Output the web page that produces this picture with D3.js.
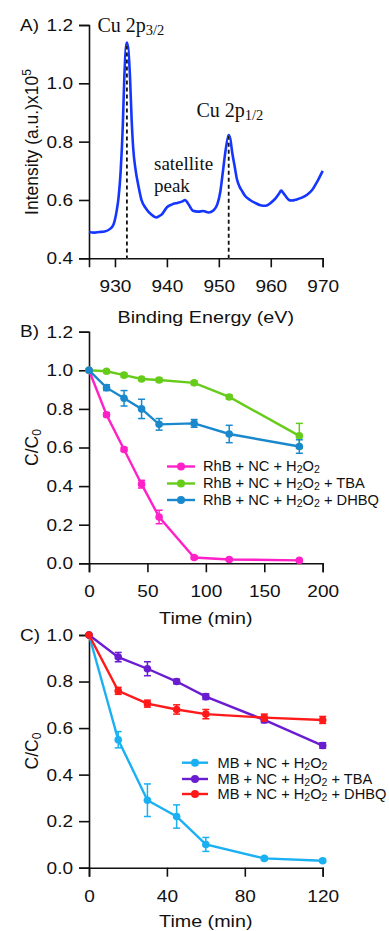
<!DOCTYPE html>
<html><head><meta charset="utf-8">
<script src="https://cdn.jsdelivr.net/npm/d3@7"></script>
<style>
html,body{margin:0;padding:0;background:#fff;}
svg{display:block;font-family:"Liberation Sans",Arial,sans-serif;}
</style></head>
<body><svg id="c" width="389" height="931"></svg>
<script>
// ---------- Panel A data (XPS Cu 2p) ----------
const xpsEnergy = [925,926,927,928,929,929.7,930.3,930.7,931.1,931.5,931.8,932.1,932.3,932.6,932.9,933.2,933.5,934,934.5,935.1,936,937,938,938.5,939,940,941,942,943,943.5,944,944.5,945,946,947,948,949,949.7,950.3,950.8,951.3,951.7,951.9,952.2,952.6,953,953.5,954,954.5,955,956,957,958,959,960,961,961.6,962,962.5,963,963.5,964,965,966,967,968,969,970];
const xpsIntensity = [0.49,0.488,0.49,0.492,0.50,0.515,0.56,0.61,0.70,0.85,1.02,1.12,1.14,1.11,1.02,0.88,0.78,0.70,0.65,0.60,0.57,0.55,0.54,0.545,0.55,0.575,0.585,0.59,0.595,0.60,0.59,0.575,0.563,0.56,0.562,0.557,0.565,0.585,0.63,0.70,0.77,0.81,0.823,0.81,0.76,0.72,0.67,0.645,0.63,0.615,0.60,0.59,0.582,0.58,0.59,0.607,0.622,0.632,0.622,0.61,0.60,0.598,0.602,0.608,0.618,0.635,0.665,0.70];
const peakPositions = [932.3, 951.9];
const peakTops = [1.13, 0.82];
const xTicksA = [930,940,950,960,970];
const yTicksA = [0.4,0.6,0.8,1.0,1.2];

// ---------- Panel B data (RhB) ----------
const timeB = [0,15,30,45,60,90,120,180];
const rhbH2O2 = [1.0,0.77,0.59,0.41,0.24,0.03,0.02,0.015];
const rhbH2O2Err = [0,0.01,0.01,0.02,0.035,0.008,0.005,0.005];
const rhbTBA = [1.0,0.995,0.975,0.955,0.95,0.935,0.862,0.66];
const rhbTBAErr = [0,0.008,0.01,0.008,0.01,0.01,0.01,0.065];
const rhbDHBQ = [1.0,0.91,0.855,0.80,0.72,0.725,0.67,0.605];
const rhbDHBQErr = [0,0.015,0.04,0.05,0.03,0.02,0.045,0.035];
const xTicksB = [0,50,100,150,200];
const yTicksB = [0,0.2,0.4,0.6,0.8,1.0,1.2];

// ---------- Panel C data (MB) ----------
const timeC = [0,15,30,45,60,90,120];
const mbH2O2 = [1.0,0.55,0.29,0.22,0.10,0.04,0.03];
const mbH2O2Err = [0,0.035,0.07,0.05,0.03,0.006,0.006];
const mbTBA = [1.0,0.905,0.855,0.80,0.735,0.635,0.525];
const mbTBAErr = [0,0.02,0.03,0.01,0.012,0.012,0.012];
const mbDHBQ = [1.0,0.76,0.705,0.68,0.66,0.645,0.635];
const mbDHBQErr = [0,0.015,0.015,0.02,0.02,0.015,0.015];
const xTicksC = [0,40,80,120];
const yTicksC = [0,0.2,0.4,0.6,0.8,1.0];

const svg = d3.select("#c");
const FS = 17;
const SX = 1.12;   // horizontal stretch of the sans-serif text

function stretch(sel, sx){
  sel.each(function(){
    const t = d3.select(this);
    const x = +(t.attr("x")||0);
    t.attr("x", x/sx);
    const tr = t.attr("transform")||"";
    t.attr("transform", (tr+" scale("+sx+",1)").trim());
  });
}
function styleAxis(g){
  g.selectAll("path.domain").attr("stroke","#111").attr("stroke-width",1.6);
  g.selectAll(".tick line").attr("stroke","#111").attr("stroke-width",1.6);
  g.selectAll(".tick text").attr("font-size",FS).attr("fill","#111").attr("font-family","Liberation Sans, Arial, sans-serif");
  stretch(g.selectAll(".tick text"),SX);
}
function drawAxes(x,y,xt,yt,xFmt,yFmt,yBottom){
  const gy = svg.append("g").attr("transform",`translate(${x.range()[0]},0)`)
    .call(d3.axisLeft(y).tickValues(yt).tickFormat(yFmt).tickSizeOuter(0).tickSize(10).tickPadding(6));
  styleAxis(gy);
  const gx = svg.append("g").attr("transform",`translate(0,${yBottom})`)
    .call(d3.axisBottom(x).tickValues(xt).tickFormat(xFmt).tickSizeOuter(0).tickSize(9).tickPadding(13));
  styleAxis(gx);
}
function addText(x,y,str,opts={}){
  const t = svg.append("text").attr("x",x).attr("y",y).attr("font-size",opts.size||FS).attr("fill","#111")
    .attr("text-anchor",opts.anchor||"start");
  if(opts.family) t.attr("font-family",opts.family);
  t.text(str);
  if(opts.sx) stretch(t,opts.sx);
  return t;
}
// H2O2 text with subscripts
function chemText(x,y,prefix,suffix,size){
  const t = svg.append("text").attr("x",x).attr("y",y).attr("font-size",size).attr("fill","#111");
  t.append("tspan").text(prefix+"H");
  t.append("tspan").attr("font-size",size*0.72).attr("dy",2).text("2");
  t.append("tspan").attr("dy",-2).text("O");
  t.append("tspan").attr("font-size",size*0.72).attr("dy",2).text("2");
  t.append("tspan").attr("dy",-2).text(suffix);
  return t;
}
function yLabel(x,y,main,extra,sup){
  const yl = svg.append("text").attr("x",x).attr("y",y).attr("font-size",17.5).attr("fill","#111")
    .attr("text-anchor","middle").attr("transform",`rotate(-90,${x},${y})`);
  yl.append("tspan").text(main);
  yl.append("tspan").attr("font-size",12).attr("dy",sup?-7:3).text(extra);
}

// ================= Panel A =================
const xA = d3.scaleLinear().domain([925,970]).range([89,322.7]);
const yA = d3.scaleLinear().domain([0.4,1.2]).range([258.3,25]);
drawAxes(xA,yA,xTicksA,yTicksA,d3.format("d"),d3.format(".1f"),258.3);

const lineA = d3.line().x((d,i)=>xA(xpsEnergy[i])).y(d=>yA(d)).curve(d3.curveMonotoneX);
svg.append("path").datum(xpsIntensity).attr("d",lineA).attr("fill","none")
  .attr("stroke","#1436ff").attr("stroke-width",2.6).attr("stroke-linejoin","round");

peakPositions.forEach((p,i)=>{
  svg.append("line").attr("x1",xA(p)).attr("x2",xA(p)).attr("y1",yA(peakTops[i])).attr("y2",yA(0.4))
    .attr("stroke","#fff").attr("stroke-width",1.6);
  svg.append("line").attr("x1",xA(p)).attr("x2",xA(p)).attr("y1",yA(peakTops[i])).attr("y2",yA(0.4))
    .attr("stroke","#111").attr("stroke-width",1.8).attr("stroke-dasharray","4,3");
});

// annotations (serif)
const serif = "Liberation Serif, Times New Roman, serif";
function cuLabel(x,y,sub){
  const t = svg.append("text").attr("x",x).attr("y",y).attr("font-size",20).attr("font-family",serif).attr("fill","#111");
  t.append("tspan").text("Cu 2p");
  t.append("tspan").attr("font-size",14.5).attr("dy",3).text(sub);
}
cuLabel(97.5,31.5,"3/2");
cuLabel(196.5,116.5,"1/2");
addText(154,170,"satellite",{size:19,family:serif});
addText(154,192,"peak",{size:19,family:serif});

addText(20,31.5,"A)",{sx:SX});
yLabel(38,142,"Intensity (a.u.)x10","5",true);
addText(205.8,323,"Binding Energy (eV)",{anchor:"middle",sx:1.16});

// ================= helpers for kinetics =================
function series(x,y,times,vals,errs,color){
  const line = d3.line().x((d,i)=>x(times[i])).y(d=>y(d));
  svg.append("path").datum(vals).attr("d",line).attr("fill","none").attr("stroke",color).attr("stroke-width",2.4);
  const g = svg.append("g");
  vals.forEach((v,i)=>{
    const e = errs[i];
    if(e>0){
      const cx = x(times[i]);
      g.append("line").attr("x1",cx).attr("x2",cx).attr("y1",y(v-e)).attr("y2",y(v+e)).attr("stroke",color).attr("stroke-width",1.5);
      [v-e,v+e].forEach(w=>g.append("line").attr("x1",cx-3.5).attr("x2",cx+3.5).attr("y1",y(w)).attr("y2",y(w)).attr("stroke",color).attr("stroke-width",1.5));
    }
    g.append("circle").attr("cx",x(times[i])).attr("cy",y(v)).attr("r",3.8).attr("fill",color);
  });
}
function legend(x0,x1,tx,ys,labels,colors,size,targetWidth){
  const texts = [];
  labels.forEach((l,i)=>{
    svg.append("line").attr("x1",x0).attr("x2",x1).attr("y1",ys[i]).attr("y2",ys[i]).attr("stroke",colors[i]).attr("stroke-width",2.4);
    svg.append("circle").attr("cx",(x0+x1)/2).attr("cy",ys[i]).attr("r",4).attr("fill",colors[i]);
    texts.push(chemText(tx,ys[i]+5,l[0],l[1],size));
  });
  const w = d3.max(texts, t=>t.node().getComputedTextLength());
  const sx = w>0 ? Math.min(1.25, targetWidth/w) : 1;
  texts.forEach(t=>stretch(t,sx));
}

// ================= Panel B =================
const xB = d3.scaleLinear().domain([0,200]).range([89,322.7]);
const yB = d3.scaleLinear().domain([0,1.2]).range([563.3,331.7]);
drawAxes(xB,yB,xTicksB,yTicksB,d3.format("d"),d3.format(".1f"),563.3);
const colB = ["#ff20c8","#66cc1a","#1a88cc"];
series(xB,yB,timeB,rhbH2O2,rhbH2O2Err,colB[0]);
series(xB,yB,timeB,rhbTBA,rhbTBAErr,colB[1]);
series(xB,yB,timeB,rhbDHBQ,rhbDHBQErr,colB[2]);
legend(167,195,203,[466.5,483.5,500],[["RhB + NC + ",""],["RhB + NC + "," + TBA"],["RhB + NC + "," + DHBQ"]],colB,14,176);
addText(20,337.5,"B)",{sx:SX});
yLabel(38,447.5,"C/C","0",false);
addText(205.8,624,"Time (min)",{anchor:"middle",sx:1.16});

// ================= Panel C =================
const xC = d3.scaleLinear().domain([0,120]).range([89,322.7]);
const yC = d3.scaleLinear().domain([0,1.0]).range([867.7,635]);
drawAxes(xC,yC,xTicksC,yTicksC,d3.format("d"),d3.format(".1f"),867.7);
const colC = ["#1ab0f2","#6a1cd0","#ff1a1a"];
series(xC,yC,timeC,mbH2O2,mbH2O2Err,colC[0]);
series(xC,yC,timeC,mbTBA,mbTBAErr,colC[1]);
series(xC,yC,timeC,mbDHBQ,mbDHBQErr,colC[2]);
legend(182,208,217.5,[762.7,779,794],[["MB + NC + ",""],["MB + NC + "," + TBA"],["MB + NC + "," + DHBQ"]],colC,14,169);
addText(20,641,"C)",{sx:SX});
yLabel(38,751,"C/C","0",false);
addText(205.8,927,"Time (min)",{anchor:"middle",sx:1.16});
</script></body></html>
